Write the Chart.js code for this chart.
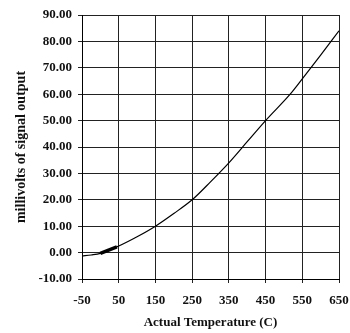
<!DOCTYPE html>
<html>
<head>
<meta charset="utf-8">
<script src="https://cdn.jsdelivr.net/npm/chart.js@4/dist/chart.umd.min.js"></script>
<style>
  html, body { margin: 0; padding: 0; background: #fff; }
  #wrap { width: 350px; height: 333px; }
</style>
</head>
<body>
<div id="wrap"><canvas id="signalChart"></canvas></div>
<script>
// curve
const temps = [-50, -25, 0, 50, 100, 150, 200, 250, 300, 350, 400, 450, 517, 550, 600, 650];
const millivolts = [-1.3, -0.9, -0.3, 2.5, 6.0, 10.0, 14.8, 20.0, 26.8, 34.0, 42.0, 50.0, 60.0, 65.8, 74.8, 84.0];
// thicker stretch near room temperature
const rangeTemps = [0, 45];
const rangeMillivolts = [-0.3, 2.2];
const xTicks = [-50, 50, 150, 250, 350, 450, 550, 650];
const yTicks = [-10, 0, 10, 20, 30, 40, 50, 60, 70, 80, 90];

const toPoints = (xs, ys) => xs.map((x, i) => ({ x: x, y: ys[i] }));
const tickFont = { family: 'Liberation Serif', size: 13, weight: 'bold' };

new Chart(document.getElementById('signalChart').getContext('2d'), {
    type: 'line',
    data: {
        datasets: [{
            data: toPoints(temps, millivolts),
            borderColor: '#000',
            borderWidth: 1.2,
            pointRadius: 0,
            cubicInterpolationMode: 'monotone',
            fill: false
        }, {
            data: toPoints(rangeTemps, rangeMillivolts),
            borderColor: '#000',
            borderWidth: 3.5,
            pointRadius: 0,
            fill: false
        }]
    },
    options: {
        responsive: true,
        maintainAspectRatio: false,
        animation: false,
        layout: {
            padding: { top: 15, right: 11, bottom: 0, left: 0 }
        },
        plugins: {
            legend: { display: false },
            tooltip: { enabled: false }
        },
        scales: {
            x: {
                type: 'linear',
                min: -50,
                max: 650,
                afterBuildTicks: scale => {
                    scale.ticks = xTicks.map(v => ({ value: v }));
                },
                afterFit: scale => {
                    scale.height = 54;
                    scale.paddingLeft = 0;
                    scale.paddingRight = 0;
                },
                grid: {
                    color: '#222',
                    lineWidth: 1,
                    tickLength: 4
                },
                border: { color: '#000', width: 1 },
                ticks: {
                    color: '#111',
                    font: tickFont,
                    padding: 10,
                    maxRotation: 0
                },
                title: {
                    display: true,
                    text: 'Actual Temperature (C)',
                    color: '#111',
                    font: tickFont,
                    padding: { top: 0, bottom: 3 }
                }
            },
            y: {
                min: -10,
                max: 90,
                afterBuildTicks: scale => {
                    scale.ticks = yTicks.map(v => ({ value: v }));
                },
                afterFit: scale => {
                    scale.width = 82;
                    scale.paddingTop = 0;
                    scale.paddingBottom = 0;
                },
                grid: {
                    color: '#222',
                    lineWidth: 1,
                    tickLength: 4
                },
                border: { color: '#000', width: 1 },
                ticks: {
                    color: '#111',
                    font: tickFont,
                    padding: 6,
                    callback: v => v.toFixed(2)
                },
                title: {
                    display: true,
                    text: 'millivolts of signal output',
                    color: '#111',
                    font: { family: 'Liberation Serif', size: 14, weight: 'bold' },
                    padding: { top: 13, bottom: 0 }
                }
            }
        }
    }
});
</script>
</body>
</html>
